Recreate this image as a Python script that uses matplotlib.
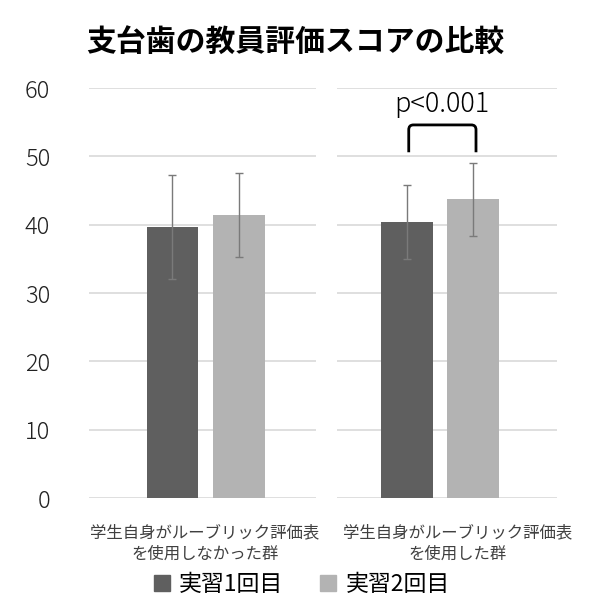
import matplotlib.pyplot as plt
from matplotlib.patches import Patch, PathPatch
from matplotlib.path import Path

plt.rcParams['font.family'] = ['Noto Sans CJK JP', 'DejaVu Sans']

# data
groups = ['学生自身がルーブリック評価表\nを使用しなかった群', '学生自身がルーブリック評価表\nを使用した群']
series = ['実習1回目', '実習2回目']
means_1 = [39.6, 40.4]
means_2 = [41.4, 43.7]
sd_1 = [7.6, 5.4]
sd_2 = [6.1, 5.35]
p_label = 'p<0.001'

colors = ['#5f5f5f', '#b3b3b3']
grid_col = '#d9d9d9'

fig = plt.figure(figsize=(6, 5.98), dpi=100)
ax_l = fig.add_axes([0.1483, 0.1672, 0.3783, 0.6856])
ax_r = fig.add_axes([0.5617, 0.1672, 0.3667, 0.6856])
axes = [ax_l, ax_r]
xlims = [(-1.754, 1.655), (-1.547, 1.757)]
label_pos = [-0.01, 0.27]

w = 0.78
for i, ax in enumerate(axes):
    ax.bar(-0.5, means_1[i], w, color=colors[0], zorder=2)
    ax.bar(0.5, means_2[i], w, color=colors[1], zorder=2)
    ax.errorbar([-0.5, 0.5], [means_1[i], means_2[i]], yerr=[sd_1[i], sd_2[i]],
                fmt='none', ecolor='#7a7a7a', elinewidth=1, capsize=3, capthick=1, zorder=3)
    ax.set_ylim(0, 60)
    ax.set_xlim(*xlims[i])
    ax.set_yticks(range(0, 61, 10))
    ax.yaxis.grid(True, color=grid_col, linewidth=1.2, zorder=0)
    ax.set_axisbelow(True)
    for s in ax.spines.values():
        s.set_visible(False)
    ax.tick_params(length=0)
    ax.set_xticks([label_pos[i]])
    ax.set_xticklabels([groups[i]], fontsize=11.8, color='#404040', linespacing=1.35)
    ax.tick_params(axis='x', pad=19)

ax_l.tick_params(axis='y', labelsize=17, pad=28, labelcolor='#222222')
for t in ax_l.get_yticklabels():
    t.set_fontweight('light')
ax_r.set_yticklabels([])

# significance bracket
x0, x1 = -0.47, 0.54
y0, y1 = 50.6, 54.6
rx, ry = 0.07, 0.7
verts = [(x0, y0), (x0, y1 - ry), (x0, y1), (x0 + rx, y1), (x1 - rx, y1),
         (x1, y1), (x1, y1 - ry), (x1, y0)]
codes = [Path.MOVETO, Path.LINETO, Path.CURVE3, Path.CURVE3, Path.LINETO,
         Path.CURVE3, Path.CURVE3, Path.LINETO]
ax_r.add_patch(PathPatch(Path(verts, codes), fill=False, lw=2, color='black'))
ax_r.text(0.03, 57.6, p_label, ha='center', va='center', fontsize=19.5,
          fontweight='light')

fig.text(0.493, 0.93, '支台歯の教員評価スコアの比較', ha='center', va='center',
         fontsize=21.5, fontweight='bold')

handles = [Patch(color=colors[0]), Patch(color=colors[1])]
fig.legend(handles, series, loc='center', bbox_to_anchor=(0.503, 0.022), ncol=2,
           frameon=False, fontsize=16.5, handlelength=0.7, handleheight=0.7,
           handletextpad=0.4, columnspacing=1.6)

fig.savefig('out.png', dpi=100)
